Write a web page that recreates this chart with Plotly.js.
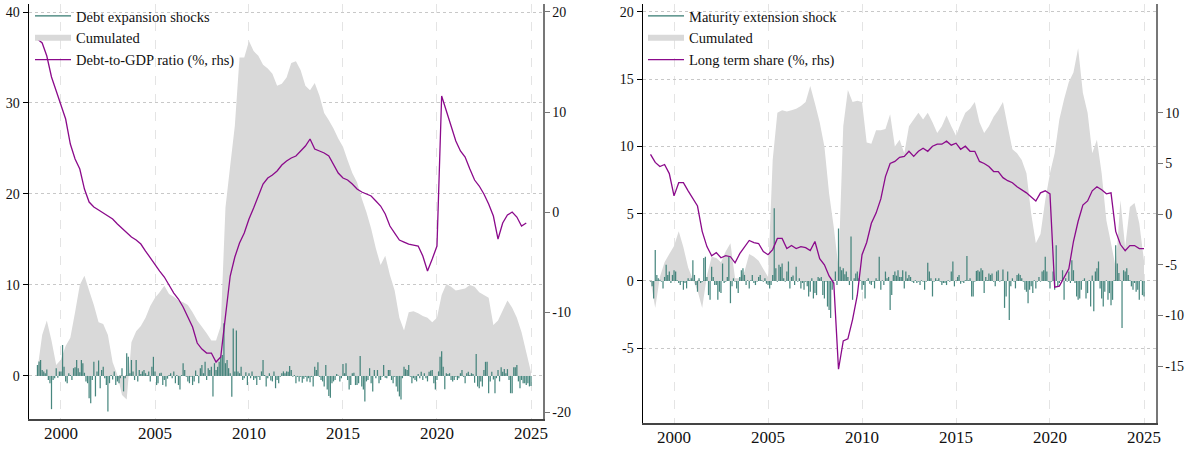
<!DOCTYPE html>
<html>
<head>
<meta charset="utf-8">
<script src="https://cdn.plot.ly/plotly-3.0.1.min.js"></script>
<style>html,body{margin:0;padding:0;background:#fff}#chart{width:1185px;height:449px}</style>
</head>
<body>
<div id="chart"></div>
<script>
// ---------- DATA ----------
const seriesStart = [1998, 10];           // first month of all series
const xTickYears = [2000, 2005, 2010, 2015, 2020, 2025];

// Left panel: debt expansion shocks (monthly), cumulated (quarterly), debt-to-GDP ratio (quarterly, rhs)
const debtShocks = [
  1.2,1.6,1.75,0.65,0.5,0.3,0.7,-0.45,-0.8,-3.65,
  -0.45,-0.25,0.85,-0.2,0.5,0.5,3.4,1.0,-0.6,-0.8,
  0.3,0.1,-0.45,0.85,0.95,1.75,0.85,0.4,1.75,1.4,
  0.35,-0.6,-0.8,-2.45,-3.0,-0.45,1.55,-2.25,0.5,1.7,
  -1.35,0.65,1.0,-0.25,-1.0,-3.9,-0.8,0.1,-0.4,0.5,
  -1.0,-0.6,-0.8,-0.25,0.85,-1.7,-0.25,2.5,2.1,0.3,
  1.75,0.5,-0.45,1.75,-0.6,0.65,0.2,0.5,0.65,0.3,
  0.1,0.5,-0.6,1.0,2.1,0.5,-1.0,-0.8,0.3,0.35,
  -1.0,-0.45,-1.15,-0.3,0.1,0.3,-0.25,0.5,-0.8,0.1,
  -1.0,-1.5,0.1,1.4,0.65,-0.1,-0.6,-0.8,-0.1,-1.0,
  -0.6,0.6,0.1,-0.8,0.85,1.2,0.3,1.55,-0.45,0.85,
  0.65,1.0,-2.25,1.4,0.65,1.0,1.55,2.1,2.3,5.8,
  1.4,1.75,0.85,0.3,-2.3,5.2,0.5,5.0,0.5,0.3,
  1.0,-0.45,-0.25,0.4,-1.0,0.3,-0.25,0.5,-0.45,-0.25,
  -1.0,-0.1,-0.45,0.5,1.75,0.1,-1.15,-0.25,0.3,-0.5,
  -0.6,0.5,-1.35,-0.45,-0.8,-0.1,0.3,0.5,0.3,0.5,
  0.45,1.1,0.65,-0.1,0.1,-0.8,-0.1,-0.6,-0.1,-0.75,-0.3,
  -0.1,-0.6,-0.25,-0.7,-0.1,-1.15,1.0,0.65,1.5,-0.1,-0.45,-0.6,-1.15,1.2,-1.5,-2.2,-2.4,-0.8,-0.6,-0.45,0.2,0.05,-0.6,-0.25,1.3,0.3,
  1.4,-0.45,-1.5,-1.0,0.3,0.35,-1.0,-1.0,-0.8,2.2,-1.15,-1.5,-2.8,-0.6,-0.45,0.85,-0.8,-1.7,0.65,-0.25,0.65,-0.8,-0.45,-0.1,1.2,-0.2,
  -0.25,0.65,0.65,-0.45,-0.8,-0.1,-1.15,-1.7,-2.25,-2.6,-0.25,1.0,0.75,0.65,1.2,-0.1,-0.8,-0.25,-0.45,-0.6,0.2,
  -0.25,0.45,-0.45,0.3,-0.25,-0.6,0.45,0.6,0.65,-0.8,-1.5,-0.45,0.5,
  2.1,2.7,1.0,-1.45,0.3,0.2,0.3,-0.45,-0.6,-0.45,-0.1,-0.45,-0.25,0.3,
  0.65,-0.1,-0.8,0.3,0.45,0.1,0.3,0.2,-0.75,2.4,-1.15,-1.35,-0.6,-1.15,0.65,1.55,1.55,-1.9,-0.6,0.45,-0.4,
  -1.9,-0.25,0.65,-0.6,0.95,0.45,0.75,0.3,0.75,-0.45,-1.9,-1.9,0.95,0.95,1.2,-0.6,
  -1.35,-0.45,-0.8,-0.8,-1.0,-0.8,-1.15,-1.1
];
const debtCumulated = [
  0.7,4.5,6.1,3.9,1.2,
  1.8,3.3,4.2,7.0,  10.0,11.0,9.4,7.8,  5.9,5.7,4.5,1.5,  0.1,-2.1,-2.6,3.7,
  4.9,5.5,6.4,7.7,  8.6,9.2,9.9,9.0,  8.7,8.3,8.1,7.8,  7.0,6.1,5.4,4.7,
  3.9,3.9,5.5,18.5,  23.1,27.5,35.0,35.0,  36.8,35.7,35.2,34.2,  33.8,33.2,31.9,32.1,
  32.8,34.4,34.6,33.6,  31.9,31.4,32.2,30.8,  28.9,28.1,27.2,26.1,  25.2,23.7,22.3,21.3,
  19.5,18.0,16.2,14.0,  12.2,13.2,11.1,9.4,  6.4,5.0,7.0,7.1,  6.9,6.6,6.4,5.9,
  6.4,8.9,10.1,9.8,  9.4,9.5,9.6,10.0,  9.8,9.2,8.9,8.6,  5.6,6.1,7.2,8.3,
  7.5,6.4,4.8,2.6,  0.4
];
const debtRatio = [
  17.3,16.9,15.6,13.5,12.1,
  10.6,9.3,6.8,5.3,  4.3,2.3,1.0,0.5,  0.2,-0.1,-0.4,-0.7,  -1.2,-1.6,-2.1,-2.5,
  -2.8,-3.2,-3.9,-4.6,  -5.2,-5.9,-6.5,-7.3,  -8.1,-8.7,-9.5,-10.5,  -11.5,-13.1,-13.7,-14.1,
  -14.1,-15.0,-14.5,-10.4,  -6.4,-4.5,-3.1,-2.1,  -0.7,0.4,1.6,2.8,  3.4,3.7,4.1,4.7,
  5.1,5.4,5.6,6.1,  6.6,7.3,6.3,6.1,  5.9,5.6,4.8,3.9,  3.4,3.2,2.8,2.3,
  2.0,1.8,1.6,1.1,  0.6,-0.2,-1.4,-2.1,  -2.8,-3.0,-3.2,-3.3,  -3.4,-4.4,-5.9,-4.7,
  -3.4,11.6,10.1,8.6,  7.1,6.1,5.5,4.3,  3.2,2.6,1.8,0.8,  -0.4,-2.7,-1.1,-0.3,
  0.0,-0.5,-1.4,-1.1
];

// Right panel: maturity extension shock (monthly), cumulated (quarterly), long term share (quarterly, rhs)
const maturityShocks = [
  -0.05,-0.4,-1.3,2.3,0.45,0.2,0.1,
  -0.05,-0.55,0.3,1.2,0.45,0.7,-0.15,0.45,0.8,0.7,0.05,-0.15,-0.3,-0.05,-0.65,-0.15,-0.55,0.2,
  0.05,0.2,1.55,0.45,-0.3,-0.8,0.2,-0.15,-0.05,1.7,1.8,0.3,-1.05,-1.4,1.05,0.3,-0.3,
  -0.3,-1.4,-0.8,-0.9,1.3,-0.15,-0.05,0.3,1.8,-1.65,-0.4,0.2,-0.05,-0.55,-0.9,0.3,
  0.8,0.95,0.45,-0.3,0.05,-0.55,0.05,0.45,-0.15,-0.3,-0.05,0.3,0.45,0.05,-0.05,0.2,-0.2,
  -0.3,-0.55,-0.3,0.45,5.4,0.95,-0.05,1.2,1.05,1.3,0.2,-0.05,0.7,1.45,-0.55,0.3,0.4,
  -0.3,1.05,-0.05,0.2,-0.55,-0.15,-0.65,-0.05,-0.4,-1.15,-0.8,0.2,-1.3,-0.9,-1.05,0.3,
  0.2,0.3,-1.05,-1.3,-0.05,-1.9,-2.15,-2.75,-0.65,0.05,0.7,-0.3,3.9,1.05,0.8,0.95,0.5,
  0.7,0.3,-0.3,3.3,-1.4,0.2,0.55,0.7,0.2,0.05,-0.65,-0.3,-1.3,0.05,0.2,-0.2,
  -0.3,-0.05,-0.55,0.2,0.05,1.8,-0.65,0.05,-0.3,0.7,0.2,0.3,-2.15,-1.05,0.45,0.7,0.4,
  0.8,0.3,0.3,
  0.8,-0.55,0.7,0.2,0.45,0.3,
  -0.05,-0.15,0.05,-0.15,-0.05,-0.3,0.05,-0.05,-0.65,-0.05,1.35,0.7,0.2,-1.15,-0.05,0.2,
  0.05,0.2,-0.05,-0.3,-0.15,-0.15,-0.3,0.05,-0.05,0.7,1.45,-0.4,0.05,0.3,0.45,-0.2,
  -0.05,-0.15,0.05,1.85,0.05,0.2,-1.15,-1.15,-0.05,0.75,0.8,0.7,0.95,0.8,-0.9,0.3,
  0.05,0.55,0.45,0.55,-0.05,-0.4,0.7,0.8,-0.05,0.05,0.85,-2.0,-1.15,0.7,-2.9,-0.4,0.2,
  -0.05,-0.55,0.45,0.55,0.45,0.2,-0.05,-0.65,-0.8,-1.65,-0.65,-0.4,-0.9,0.05,-0.55,-0.05,0.3,
  -0.05,0.7,0.8,1.8,0.7,-0.05,-0.55,-0.05,0.7,-0.65,2.65,-0.4,-0.15,0.05,0.8,-1.4,0.2,
  -0.05,0.7,-0.15,1.55,0.8,-0.15,-1.15,-1.4,-1.3,-0.65,0.05,0.2,-1.3,-0.9,0.05,-1.9,0.4,
  -2.25,0.7,0.95,1.45,-0.55,-1.3,-1.9,-0.8,0.05,-1.4,-0.9,-1.8,-1.4,0.05,2.65,1.3,0.6,
  0.05,-3.5,0.8,0.7,0.95,0.45,0.05,-0.4,-0.65,-0.15,-0.8,-0.65,-1.4,0.05,-1.05,-1.15
];
const maturityCumulated = [
  0.0,-2.0,0.3,1.4,2.0,
  2.6,3.7,2.5,1.0,  0.1,-0.7,-2.0,0.4,  1.8,1.7,1.4,2.2,  2.8,0.2,0.2,0.7,
  2.0,1.8,1.5,0.9,  0.3,9.0,12.5,12.7,  12.6,12.7,12.8,13.0,  13.3,14.5,13.2,11.8,
  10.0,6.5,4.0,1.0,  11.5,14.2,13.3,13.4,  13.3,10.3,10.2,11.2,  11.2,11.3,12.4,10.0,
  10.5,9.5,11.5,12.0,  12.5,12.0,12.5,11.8,  11.0,11.5,12.3,11.5,  10.8,11.7,12.5,12.8,
  13.3,11.8,11.0,11.5,  12.2,12.7,13.3,11.5,  9.8,9.5,9.0,8.0,  5.0,2.8,3.5,6.0,
  8.0,9.5,12.0,13.5,  14.8,15.5,17.3,14.0,  12.5,9.5,10.5,8.0,  4.5,2.8,1.0,6.0,
  2.5,5.5,5.8,4.3,  1.5
];
const longTermShare = [
  5.9,5.1,4.7,4.9,4.0,
  1.8,3.1,3.1,2.3,  1.5,0.8,-1.7,-3.2,  -4.1,-3.8,-4.3,-4.1,  -4.2,-4.8,-3.9,-3.2,
  -2.6,-2.8,-2.9,-3.7,  -4.0,-3.5,-2.4,-2.4,  -3.4,-3.1,-3.4,-3.2,  -3.3,-3.6,-2.7,-4.4,
  -5.0,-6.1,-6.8,-15.3,  -12.5,-12.3,-10.4,-8.0,  -4.0,-2.8,-0.9,0.1,  1.5,3.7,5.0,5.2,
  5.6,5.7,6.2,5.7,  6.2,6.5,6.2,6.7,  6.9,6.9,7.2,6.8,  7.0,6.4,6.7,6.2,
  6.2,5.2,5.0,4.7,  4.2,4.2,3.6,3.3,  3.1,2.7,2.4,2.1,  1.7,1.3,2.1,2.3,
  2.0,-7.2,-7.1,-6.3,  -5.4,-2.7,-0.7,0.9,  1.3,2.3,2.7,2.4,  2.0,2.1,-1.7,-3.0,
  -3.6,-3.1,-3.1,-3.4,  -3.4
];

// ---------- HELPERS ----------
function monthDates(start, n, step) {
  const out = [];
  for (let i = 0; i < n; i++) {
    const t = (start[1] - 1) + i * step;
    const y = start[0] + Math.floor(t / 12);
    const m = (t % 12) + 1;
    out.push(y + '-' + String(m).padStart(2, '0') + '-01');
  }
  return out;
}
const W = 1185, H = 449;
const FONT = 'Liberation Serif, Times New Roman, serif';
const TEAL = '#347a71';
const GREY = '#d9d9d9';
const PURPLE = '#8b0a8b';
const BARW = 24 * 86400000;
const tickVals = xTickYears.map(y => y + '-01-01');
const tickText = xTickYears.map(String);

// area on base axis, bars on an invisible overlay (drawn above the area), line on the rhs overlay (on top)
function panelTraces(xa, yArea, yBars, yLine, leg, shockName, lineName, shocks, cum, line) {
  return [
    {x: [null], y: [null], type: 'scatter', mode: 'lines', name: shockName,
     line: {color: TEAL, width: 1.2}, xaxis: xa, yaxis: yArea, legend: leg, legendgroup: leg + 'a', hoverinfo: 'skip'},
    {x: monthDates(seriesStart, cum.length, 3), y: cum, type: 'scatter', mode: 'none', fill: 'tozeroy',
     fillcolor: GREY, name: 'Cumulated', xaxis: xa, yaxis: yArea, legend: leg, legendgroup: leg + 'b'},
    {x: monthDates(seriesStart, shocks.length, 1), y: shocks, type: 'bar', width: BARW,
     marker: {color: TEAL, opacity: 0.9, line: {width: 0}}, showlegend: false, xaxis: xa, yaxis: yBars},
    {x: monthDates(seriesStart, line.length, 3), y: line, type: 'scatter', mode: 'lines', name: lineName,
     line: {color: PURPLE, width: 1.3}, xaxis: xa, yaxis: yLine, legend: leg, legendgroup: leg + 'c'}
  ];
}

const data = [].concat(
  panelTraces('x', 'y', 'y2', 'y3', 'legend', 'Debt expansion shocks', 'Debt-to-GDP ratio (%, rhs)',
              debtShocks, debtCumulated, debtRatio),
  panelTraces('x2', 'y4', 'y5', 'y6', 'legend2', 'Maturity extension shock', 'Long term share (%, rhs)',
              maturityShocks, maturityCumulated, longTermShare)
);

function xAxis(dom, anchor, range) {
  return {domain: dom, anchor: anchor, type: 'date', range: range,
    tickmode: 'array', tickvals: tickVals, ticktext: tickText,
    showgrid: true, gridcolor: '#e4e4e4', griddash: 'dash', gridwidth: 1,
    showline: true, linecolor: '#444', linewidth: 1.5, ticks: '', ticklabelstandoff: -2,
    tickfont: {family: FONT, size: 17, color: '#111'}, zeroline: false, automargin: false, fixedrange: true};
}
function yLeft(dom, anchor, range, vals) {
  return {domain: dom, anchor: anchor, range: range, tickmode: 'array', tickvals: vals,
    ticktext: vals.map(v => String(v)),
    showgrid: true, gridcolor: '#c8c8c8', griddash: 'dot', gridwidth: 1,
    showline: true, linecolor: '#000', linewidth: 1.5, ticks: 'outside', ticklen: 5, tickcolor: '#000',
    tickfont: {family: FONT, size: 14, color: '#111'}, zeroline: false, automargin: false, fixedrange: true};
}
function yHidden(over, anchor, range) {
  return {overlaying: over, anchor: anchor, range: range, visible: false, showgrid: false,
    zeroline: false, fixedrange: true};
}
function yRight(over, anchor, range, vals) {
  return {overlaying: over, side: 'right', anchor: anchor, range: range, tickmode: 'array', tickvals: vals,
    ticktext: vals.map(v => String(v)), showgrid: false,
    showline: true, linecolor: '#777', linewidth: 1.5, ticks: 'outside', ticklen: 5, tickcolor: '#777',
    tickfont: {family: FONT, size: 14, color: '#111'}, zeroline: false, automargin: false, fixedrange: true};
}
function legendAt(px) {
  return {x: px / W, y: 1 + 1 / H, xanchor: 'left', yanchor: 'top', bgcolor: 'rgba(0,0,0,0)',
    borderwidth: 0, font: {family: FONT, size: 14.5, color: '#111'}, tracegroupgap: 2,
    traceorder: 'normal', itemwidth: 36};
}

const leftRange = [-4.74, 40.88];
const rightRange = [-10.56, 20.59];
const layout = {
  width: W, height: H, margin: {l: 0, r: 0, t: 0, b: 0},
  paper_bgcolor: '#fff', plot_bgcolor: '#fff', showlegend: true, barmode: 'overlay',
  font: {family: FONT},
  xaxis: xAxis([29 / W, 543 / W], 'y', ['1998-04-20', '2025-08-22']),
  yaxis: yLeft([1 - 419 / H, 1 - 3 / H], 'x', leftRange, [0, 10, 20, 30, 40]),
  yaxis2: yHidden('y', 'x', leftRange),
  yaxis3: yRight('y', 'x', [-20.7, 20.8], [-20, -10, 0, 10, 20]),
  xaxis2: xAxis([643 / W, 1156 / W], 'y4', ['1998-05-08', '2025-08-22']),
  yaxis4: yLeft([1 - 423 / H, 1 - 3 / H], 'x2', rightRange, [-5, 0, 5, 10, 15, 20]),
  yaxis5: yHidden('y4', 'x2', rightRange),
  yaxis6: yRight('y4', 'x2', [-20.61, 20.73], [-15, -10, -5, 0, 5, 10]),
  legend: legendAt(30),
  legend2: legendAt(643)
};

Plotly.newPlot('chart', data, layout, {staticPlot: true, displayModeBar: false});
</script>
</body>
</html>
